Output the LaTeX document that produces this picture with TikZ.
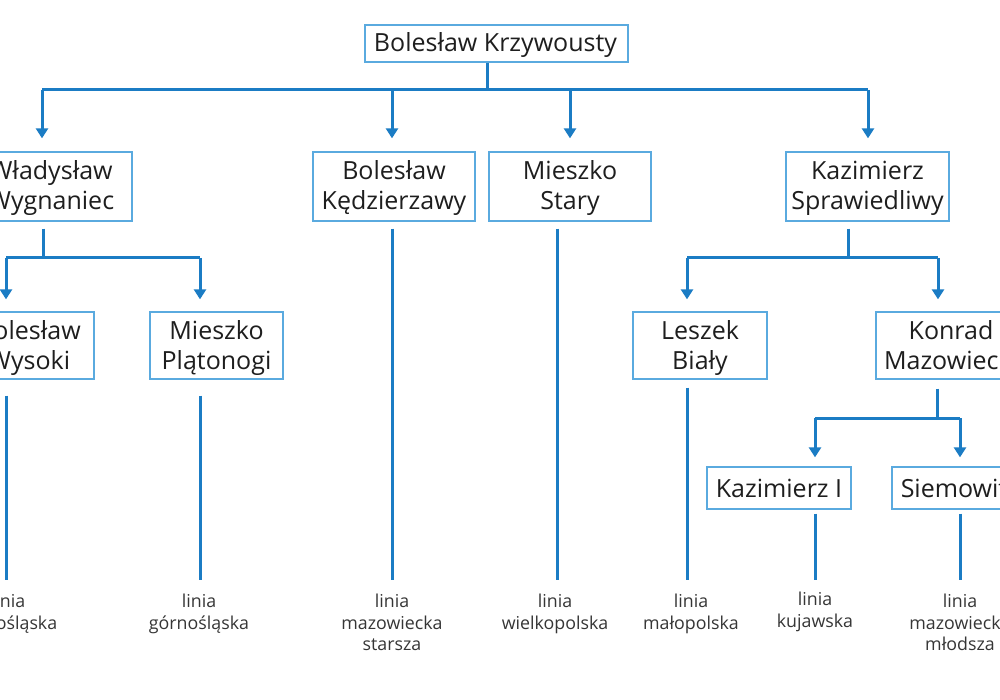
\documentclass[tikz,border=0pt]{standalone}
\usepackage{fontspec}
\setmainfont{Open Sans}
\usetikzlibrary{arrows.meta,calc}
\definecolor{lineblue}{HTML}{1B7CC4}
\definecolor{boxblue}{HTML}{5AAADF}
\definecolor{txtc}{HTML}{1E1E1E}
\definecolor{lblc}{HTML}{363636}
\tikzset{
  person/.style={draw=boxblue, line width=1.3pt, fill=white, inner sep=0pt},
  ptext/.style={align=center, inner sep=0pt, font=\fontsize{25}{30}\selectfont, text=txtc},
  conn/.style={draw=lineblue, line width=3pt},
  arr/.style={conn, -{Triangle[width=12pt,length=10pt]}},
  lbl/.style={align=center, font=\fontsize{17.8}{21.5}\selectfont, text=lblc, inner sep=0pt, anchor=north}
}
\begin{document}
\begin{tikzpicture}[x=1pt,y=-1pt]
\useasboundingbox (0,0) rectangle (1000,700);
\clip (0,0) rectangle (1000,700);
\fill[white] (0,0) rectangle (1000,700);

% boxes
\node[person, minimum width=263pt, minimum height=37pt] (root) at (496.5,43.5) {};
\node[person, minimum width=162pt, minimum height=69pt] (wyg) at (51,186.5) {};
\node[person, minimum width=162pt, minimum height=69pt] (kedz) at (394,186.5) {};
\node[person, minimum width=162pt, minimum height=69pt] (stary) at (570,186.5) {};
\node[person, minimum width=163pt, minimum height=69pt] (spraw) at (867.5,186.5) {};
\node[person, minimum width=130pt, minimum height=67pt] (wys) at (29,345.5) {};
\node[person, minimum width=133pt, minimum height=67pt] (plat) at (216.5,345.5) {};
\node[person, minimum width=134pt, minimum height=67pt] (bialy) at (700,345.5) {};
\node[person, minimum width=150pt, minimum height=67pt] (konrad) at (951,345.5) {};
\node[person, minimum width=144pt, minimum height=42pt] (kaz) at (779,488) {};
\node[person, minimum width=124pt, minimum height=42pt] (siem) at (954,488) {};

% names
\node[ptext] (rootT) at ($(root.center)+(-1,2.5)$) {\strut Bolesław Krzywousty\strut};
\node[ptext] (wygT) at ($(wyg.center)+(0,2.5)$) {\strut Władysław\strut\\\strut Wygnaniec\strut};
\node[ptext] (kedzT) at ($(kedz.center)+(0,2.5)$) {\strut Bolesław\strut\\\strut Kędzierzawy\strut};
\node[ptext] (staryT) at ($(stary.center)+(0,2.5)$) {\strut Mieszko\strut\\\strut Stary\strut};
\node[ptext] (sprawT) at ($(spraw.center)+(0,2.5)$) {\strut Kazimierz\strut\\\strut Sprawiedliwy\strut};
\node[ptext] (wysT) at ($(wys.center)+(0,2.5)$) {\strut Bolesław\strut\\\strut Wysoki\strut};
\node[ptext] (platT) at ($(plat.center)+(0,2.5)$) {\strut Mieszko\strut\\\strut Plątonogi\strut};
\node[ptext] (bialyT) at ($(bialy.center)+(0,2.5)$) {\strut Leszek\strut\\\strut Biały\strut};
\node[ptext] (konradT) at ($(konrad.center)+(0,2.5)$) {\strut Konrad\strut\\\strut Mazowiecki\strut};
\node[ptext] (kazT) at ($(kaz.center)+(0,3)$) {\strut Kazimierz I\strut};
\node[ptext] (siemT) at ($(siem.center)+(0,3)$) {\strut Siemowit\strut};

% labels
\node[lbl] (ldol) at (8,594) {linia\\dolnośląska};
\node[lbl] (lgor) at (199,594) {linia\\górnośląska};
\node[lbl] (lmst) at (392,594) {linia\\mazowiecka\\starsza};
\node[lbl] (lwlk) at (555,594) {linia\\wielkopolska};
\node[lbl] (lmal) at (691,594) {linia\\małopolska};
\node[lbl] (lkuj) at (815,592) {linia\\kujawska};
\node[lbl] (lmml) at (960,594) {linia\\mazowiecka\\młodsza};

% junction coordinates
\coordinate (j0) at (487,90);
\coordinate (j0L) at (42,90);
\coordinate (j0R) at (868,90);
\coordinate (j1) at (43,258);
\coordinate (j1L) at (6,258);
\coordinate (j1R) at (200,258);
\coordinate (j2) at (848,258);
\coordinate (j2L) at (687,258);
\coordinate (j2R) at (938,258);
\coordinate (j3) at (937,418);
\coordinate (j3L) at (815,418);
\coordinate (j3R) at (960,418);

% generation 1
\draw[conn] (root.south -| j0) -- (j0);
\draw[conn] (j0L) -- (j0R);
\draw[arr] (j0L) -- ($(wyg.north -| j0L)+(0,-13)$);
\draw[arr] (392,90) -- ($(kedz.north -| 392,0)+(0,-13)$);
\draw[arr] (570,90) -- ($(stary.north -| 570,0)+(0,-13)$);
\draw[arr] (j0R) -- ($(spraw.north -| j0R)+(0,-13)$);

% Władysław's sons
\draw[conn] ($(wyg.south -| j1)+(0,7)$) -- (j1);
\draw[conn] (j1L) -- (j1R);
\draw[arr] (j1L) -- ($(wys.north -| j1L)+(0,-12)$);
\draw[arr] (j1R) -- ($(plat.north -| j1R)+(0,-12)$);

% Kazimierz's sons
\draw[conn] ($(spraw.south -| j2)+(0,7)$) -- (j2);
\draw[conn] (j2L) -- (j2R);
\draw[arr] (j2L) -- ($(bialy.north -| j2L)+(0,-12)$);
\draw[arr] (j2R) -- ($(konrad.north -| j2R)+(0,-12)$);

% Konrad's sons
\draw[conn] ($(konrad.south -| j3)+(0,9)$) -- (j3);
\draw[conn] (j3L) -- (j3R);
\draw[arr] (j3L) -- ($(kaz.north -| j3L)+(0,-9)$);
\draw[arr] (j3R) -- ($(siem.north -| j3R)+(0,-9)$);

% lines to dynasty labels
\draw[conn] ($(kedz.south -| 392,0)+(0,7)$) -- ($(lmst.north -| 392,0)+(0,-14)$);
\draw[conn] ($(stary.south -| 557,0)+(0,7)$) -- ($(lwlk.north -| 557,0)+(0,-14)$);
\draw[conn] ($(wys.south -| 6,0)+(0,16)$) -- ($(ldol.north -| 6,0)+(0,-14)$);
\draw[conn] ($(plat.south -| 200,0)+(0,16)$) -- ($(lgor.north -| 200,0)+(0,-14)$);
\draw[conn] ($(bialy.south -| 687,0)+(0,8)$) -- ($(lmal.north -| 687,0)+(0,-14)$);
\draw[conn] ($(kaz.south -| 815,0)+(0,4)$) -- ($(lkuj.north -| 815,0)+(0,-12)$);
\draw[conn] ($(siem.south -| 960,0)+(0,4)$) -- ($(lmml.north -| 960,0)+(0,-14)$);
\end{tikzpicture}
\end{document}
